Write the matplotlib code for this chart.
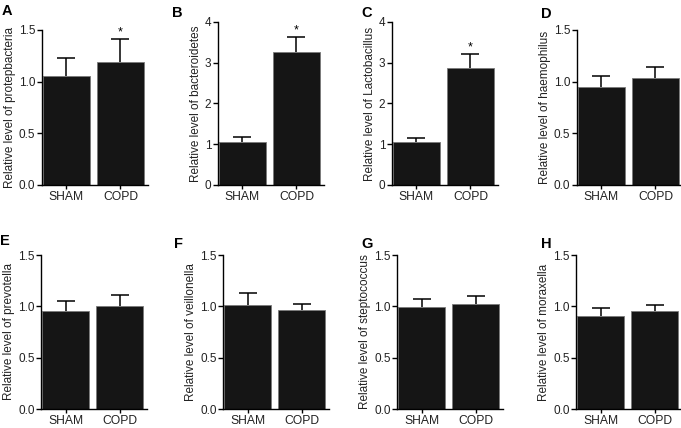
import matplotlib
matplotlib.use("Agg")
import matplotlib.pyplot as plt
import numpy as np

plt.rcParams['font.family'] = ['Liberation Sans', 'DejaVu Sans']

groups = ['SHAM', 'COPD']
letters = ['A', 'B', 'C', 'D', 'E', 'F', 'G', 'H']
names = ['protepbacteria', 'bacteroidetes', 'Lactobacillus', 'haemophilus',
         'prevotella', 'veillonella', 'steptococcus', 'moraxella']

mean_A = [1.05, 1.19]
sem_A = [0.18, 0.22]
mean_B = [1.05, 3.26]
sem_B = [0.12, 0.37]
mean_C = [1.05, 2.87]
sem_C = [0.11, 0.35]
mean_D = [0.945, 1.035]
sem_D = [0.105, 0.105]
mean_E = [0.95, 1.005]
sem_E = [0.10, 0.105]
mean_F = [1.015, 0.96]
sem_F = [0.115, 0.065]
mean_G = [0.99, 1.025]
sem_G = [0.08, 0.08]
mean_H = [0.91, 0.95]
sem_H = [0.07, 0.065]

means = [mean_A, mean_B, mean_C, mean_D, mean_E, mean_F, mean_G, mean_H]
sems = [sem_A, sem_B, sem_C, sem_D, sem_E, sem_F, sem_G, sem_H]
signif = [True, True, True, False, False, False, False, False]

W, H = 681, 428
fig = plt.figure(figsize=(W / 100, H / 100), dpi=100)

# panel boxes in pixels: left, top, bottom
boxes = [(41.5, 30, 185), (217.5, 22, 185), (391.5, 22, 185), (576.5, 30, 185),
         (41, 255, 409), (223, 255, 409), (397, 255, 409), (576, 255, 409)]
letter_pos = [(2, 4), (172, 6), (361, 6), (541, 7),
              (0, 234), (174, 237), (361, 237), (541, 237)]

for i in range(8):
    left, top, bot = boxes[i]
    ax = fig.add_axes([left / W, 1 - bot / H, 106 / W, (bot - top) / H])
    x = np.arange(2)
    m = np.array(means[i])
    s = np.array(sems[i])
    ax.bar(x, m, width=0.87, color='#151515', edgecolor='#7a7a7a', linewidth=0.6, zorder=2)
    eb = ax.errorbar(x, m, yerr=[np.zeros(2), s], fmt='none', ecolor='black',
                     elinewidth=1.1, capsize=6.5, capthick=1.1, zorder=3)
    eb[1][0].set_visible(False)  # no cap at the bar top
    if signif[i]:
        ax.annotate('*', (1, m[1] + s[1]), xytext=(0, 0.5), textcoords='offset points',
                    ha='center', va='bottom', fontsize=9)
    ax.set_xlim(-0.46, 1.5)
    if max(m + s) > 2:
        ax.set_ylim(0, 4)
        ax.set_yticks([0, 1, 2, 3, 4])
        ax.set_yticklabels(['0', '1', '2', '3', '4'])
    else:
        ax.set_ylim(0, 1.5)
        ax.set_yticks([0, 0.5, 1.0, 1.5])
        ax.set_yticklabels(['0.0', '0.5', '1.0', '1.5'])
    ax.set_xticks(x)
    ax.set_xticklabels(groups)
    ax.spines['top'].set_visible(False)
    ax.spines['right'].set_visible(False)
    ax.spines['left'].set_linewidth(1.0)
    ax.spines['bottom'].set_linewidth(1.0)
    ax.tick_params(axis='y', length=3.5, width=1.0, pad=1, labelsize=8.5, labelcolor='#222222')
    ax.tick_params(axis='x', length=3, width=1.0, pad=1.5, labelsize=8.7, labelcolor='#222222')
    ax.set_ylabel('Relative level of ' + names[i], fontsize=8.5, labelpad=2, color='#222222')
    lx, ly = letter_pos[i]
    fig.text(lx / W, 1 - ly / H, letters[i], fontsize=10.5, fontweight='bold', va='top', ha='left')

plt.savefig('out.png', dpi=100)
